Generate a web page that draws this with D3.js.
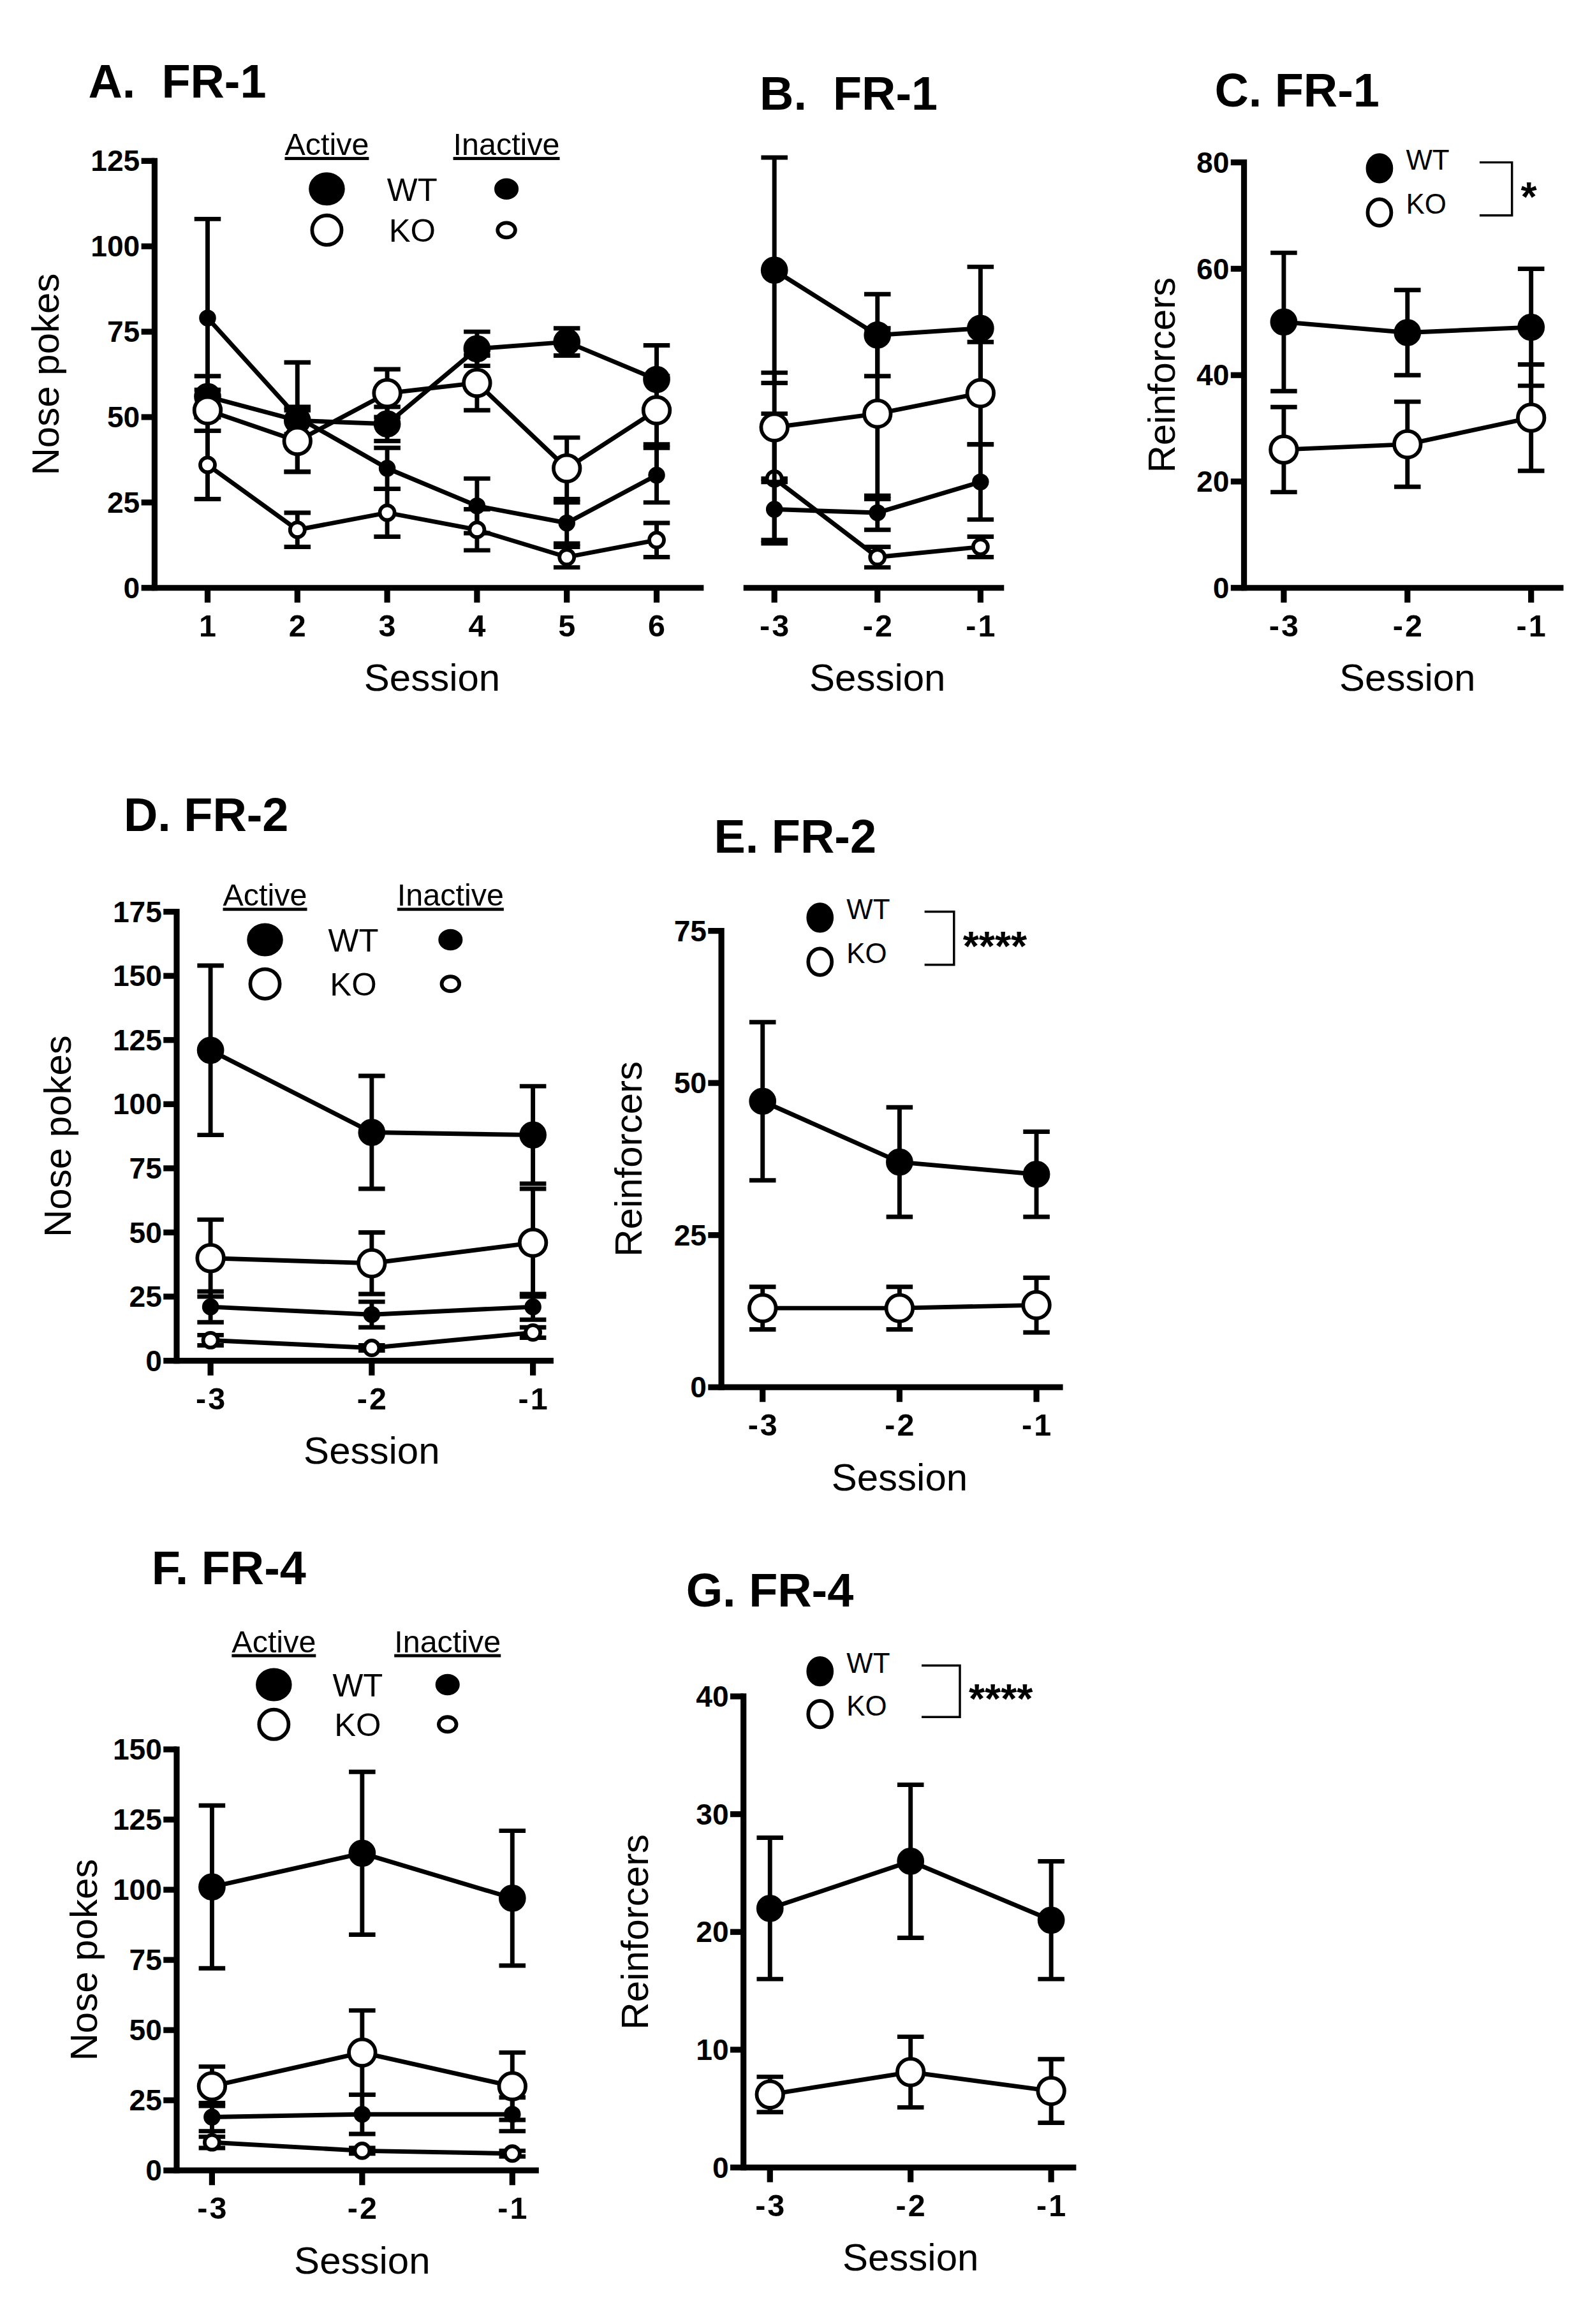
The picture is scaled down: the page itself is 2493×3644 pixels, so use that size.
<!DOCTYPE html>
<html><head><meta charset="utf-8">
<script src="https://cdn.jsdelivr.net/npm/d3@7"></script>
<style>body{margin:0;background:#fff}text{font-family:"Liberation Sans",Arial,sans-serif}</style>
</head><body><div id="chart"></div>
<script>
// Sessions
const sessA = [1, 2, 3, 4, 5, 6];
const sessLast = [-3, -2, -1];

// A. FR-1 nose pokes (sessions 1-6)
const aActWT = [56, 49, 48, 70, 72, 61], aActWTe = [6, 4, 5, 5, 4, 10];
const aActKO = [52, 43, 57, 60, 35, 52], aActKOe = [6, 9, 7, 8, 9, 10];
const aInWT = [79, 50, 35, 24, 19, 33], aInWTe = [29, 16, 6, 8, 6, 8];
const aInKO = [36, 17, 22, 17, 9, 14], aInKOe = [10, 5, 7, 6, 3, 5];
// B. FR-1 nose pokes (last 3 sessions)
const bActWT = [93, 74, 76], bActWTe = [33, 12, 18];
const bActKO = [47, 51, 57], bActKOe = [16, 25, 15];
const bInWT = [23, 22, 31], bInWTe = [9, 5, 11];
const bInKO = [32, 9, 12], bInKOe = [19, 3, 3];
// C. FR-1 reinforcers
const cWT = [50, 48, 49], cWTe = [13, 8, 11];
const cKO = [26, 27, 32], cKOe = [8, 8, 10];
// D. FR-2 nose pokes
const dActWT = [121, 89, 88], dActWTe = [33, 22, 19];
const dActKO = [40, 38, 46], dActKOe = [15, 12, 21];
const dInWT = [21, 18, 21], dInWTe = [6, 5, 5];
const dInKO = [8, 5, 11], dInKOe = [2, 1, 2];
// E. FR-2 reinforcers
const eWT = [47, 37, 35], eWTe = [13, 9, 7];
const eKO = [13, 13, 13.5], eKOe = [3.5, 3.5, 4.5];
// F. FR-4 nose pokes
const fActWT = [101, 113, 97], fActWTe = [29, 29, 24];
const fActKO = [30, 42, 30], fActKOe = [7, 15, 12];
const fInWT = [19, 20, 20], fInWTe = [5, 7, 6];
const fInKO = [10, 7, 6], fInKOe = [2, 1, 1];
// G. FR-4 reinforcers
const gWT = [22, 26, 21], gWTe = [6, 6.5, 5];
const gKO = [6.2, 8.1, 6.5], gKOe = [1.5, 3, 2.7];

// Tick values
const ticksA = [0, 25, 50, 75, 100, 125];
const ticksC = [0, 20, 40, 60, 80];
const ticksD = [0, 25, 50, 75, 100, 125, 150, 175];
const ticksE = [0, 25, 50, 75];
const ticksF = [0, 25, 50, 75, 100, 125, 150];
const ticksG = [0, 10, 20, 30, 40];

const W = 1080, H = 1578;
const svg = d3.select("#chart").append("svg")
    .attr("width", 2493).attr("height", 3644)
    .attr("viewBox", `0 0 ${W} ${H}`);

// Draw one panel; p holds geometry, series holds the lines.
function panel(p, series) {
    const g = svg.append("g");
    const x = d3.scalePoint().domain(p.cats).range([p.x0, p.x1]);
    const y = d3.scaleLinear().domain([0, p.ymax]).range([p.y0, p.yTop]);

    // x axis
    g.append("line").attr("x1", p.axL).attr("x2", p.axR)
        .attr("y1", p.y0).attr("y2", p.y0).attr("stroke", "#000").attr("stroke-width", 4);
    p.cats.forEach(c => {
        g.append("line").attr("x1", x(c)).attr("x2", x(c))
            .attr("y1", p.y0).attr("y2", p.y0 + 10).attr("stroke", "#000").attr("stroke-width", 4);
        g.append("text").attr("x", x(c)).attr("y", p.y0 + 33).attr("text-anchor", "middle")
            .attr("font-size", 21).attr("font-weight", "bold").attr("textLength", String(c).length * 10)
            .text(c);
    });
    g.append("text").attr("x", (p.x0 + p.x1) / 2).attr("y", p.y0 + 70).attr("text-anchor", "middle")
        .attr("font-size", 26).text("Session");

    // y axis
    if (p.ticks) {
        g.append("line").attr("x1", p.axL).attr("x2", p.axL)
            .attr("y1", p.y0 + 2).attr("y2", y(p.ymax) - 2).attr("stroke", "#000").attr("stroke-width", 4);
        p.ticks.forEach(t => {
            g.append("line").attr("x1", p.axL - 9).attr("x2", p.axL)
                .attr("y1", y(t)).attr("y2", y(t)).attr("stroke", "#000").attr("stroke-width", 4);
            g.append("text").attr("x", p.axL - 10).attr("y", y(t) + 7).attr("text-anchor", "end")
                .attr("font-size", 20).attr("font-weight", "bold").text(t);
        });
        g.append("text").attr("transform", `translate(${p.ylabX},${(p.y0 + y(p.ymax)) / 2}) rotate(-90)`)
            .attr("text-anchor", "middle").attr("font-size", 26).text(p.ylab);
    }

    // title
    g.append("text").attr("x", p.tx).attr("y", p.ty).attr("font-size", 32)
        .attr("font-weight", "bold").attr("xml:space", "preserve").text(p.title);

    series.forEach(s => {
        const pts = p.cats.map((c, i) => ({ c, v: s.v[i], e: s.e[i] }));
        pts.forEach(d => {
            g.append("line").attr("x1", x(d.c)).attr("x2", x(d.c))
                .attr("y1", y(d.v + d.e)).attr("y2", y(Math.max(0, d.v - d.e)))
                .attr("stroke", "#000").attr("stroke-width", 3);
            [d.v + d.e, d.v - d.e].forEach(v => g.append("line")
                .attr("x1", x(d.c) - 9).attr("x2", x(d.c) + 9).attr("y1", y(v)).attr("y2", y(v))
                .attr("stroke", "#000").attr("stroke-width", 3));
        });
        g.append("path").datum(pts)
            .attr("d", d3.line().x(d => x(d.c)).y(d => y(d.v)))
            .attr("fill", "none").attr("stroke", "#000").attr("stroke-width", 3);
        g.selectAll(null).data(pts).enter().append("ellipse")
            .attr("cx", d => x(d.c)).attr("cy", d => y(d.v))
            .attr("rx", s.r).attr("ry", s.r)
            .attr("fill", s.fill).attr("stroke", "#000").attr("stroke-width", 2.5);
    });
}

function mark(x, y, rx, ry, fill) {
    svg.append("ellipse").attr("cx", x).attr("cy", y).attr("rx", rx).attr("ry", ry)
        .attr("fill", fill).attr("stroke", "#000").attr("stroke-width", 2.5);
}
function label(x, y, s, t, extra) {
    const el = svg.append("text").attr("x", x).attr("y", y).attr("font-size", s).text(t);
    if (extra) extra(el);
    return el;
}

// Legend with Active/Inactive columns
function pokeLegend(xA, xT, xI, yH, yW, yK) {
    label(xA, yH, 21, "Active", e => e.attr("text-anchor", "middle").attr("text-decoration", "underline"));
    label(xI, yH, 21, "Inactive", e => e.attr("text-anchor", "middle").attr("text-decoration", "underline"));
    mark(xA, yW, 11, 10, "#000");
    mark(xA, yK, 10, 10, "#fff");
    mark(xI, yW, 7, 6, "#000");
    mark(xI, yK, 6, 5, "#fff");
    label(xT, yW + 8, 22, "WT", e => e.attr("text-anchor", "middle"));
    label(xT, yK + 8, 22, "KO", e => e.attr("text-anchor", "middle"));
}
// WT/KO legend with significance bracket
function reinfLegend(x, yW, yK, bx0, bx1, star) {
    mark(x, yW, 8, 9, "#000");
    mark(x, yK, 8, 9, "#fff");
    label(x + 18, yW + 1, 19, "WT");
    label(x + 18, yK + 1, 19, "KO");
    svg.append("path").attr("d", `M${bx0},${yW - 4}H${bx1}V${yK + 2}H${bx0}`)
        .attr("fill", "none").attr("stroke", "#000").attr("stroke-width", 1.5);
    label(bx1 + 6, (yW + yK) / 2 + 14, 28, star, e => e.attr("font-weight", "bold"));
}

const act = (v, e) => ({ v, e, r: 9, fill: "#fff" });

// A
panel({ cats: sessA, x0: 141, x1: 446, axL: 105, axR: 478, y0: 399, yTop: 109, ymax: 125,
    ticks: ticksA, ylab: "Nose pokes", ylabX: 40, title: "A.  FR-1", tx: 60, ty: 66 }, [
    { v: aInWT, e: aInWTe, r: 4.5, fill: "#000" },
    { v: aInKO, e: aInKOe, r: 5, fill: "#fff" },
    { v: aActWT, e: aActWTe, r: 8, fill: "#000" },
    act(aActKO, aActKOe)]);
pokeLegend(222, 280, 344, 105, 128, 156);

// B (no y axis, same scale as A)
panel({ cats: sessLast, x0: 526, x1: 666, axL: 505, axR: 682, y0: 399, yTop: 109, ymax: 125,
    title: "B.  FR-1", tx: 516, ty: 74 }, [
    { v: bInWT, e: bInWTe, r: 4.5, fill: "#000" },
    { v: bInKO, e: bInKOe, r: 5, fill: "#fff" },
    { v: bActWT, e: bActWTe, r: 8, fill: "#000" },
    act(bActKO, bActKOe)]);

// C
panel({ cats: sessLast, x0: 872, x1: 1040, axL: 845, axR: 1062, y0: 399, yTop: 110, ymax: 80,
    ticks: ticksC, ylab: "Reinforcers", ylabX: 798, title: "C. FR-1", tx: 825, ty: 72 }, [
    { v: cWT, e: cWTe, r: 8, fill: "#000" }, act(cKO, cKOe)]);
reinfLegend(937, 114, 144, 1005, 1027, "*");

// D
panel({ cats: sessLast, x0: 143, x1: 362, axL: 120, axR: 376, y0: 924, yTop: 619, ymax: 175,
    ticks: ticksD, ylab: "Nose pokes", ylabX: 48, title: "D. FR-2", tx: 84, ty: 564 }, [
    { v: dInWT, e: dInWTe, r: 4.5, fill: "#000" },
    { v: dInKO, e: dInKOe, r: 5, fill: "#fff" },
    { v: dActWT, e: dActWTe, r: 8, fill: "#000" },
    act(dActKO, dActKOe)]);
pokeLegend(180, 240, 306, 615, 638, 668);

// E
panel({ cats: sessLast, x0: 518, x1: 704, axL: 490, axR: 722, y0: 942, yTop: 632, ymax: 75,
    ticks: ticksE, ylab: "Reinforcers", ylabX: 436, title: "E. FR-2", tx: 485, ty: 579 }, [
    { v: eWT, e: eWTe, r: 8, fill: "#000" }, act(eKO, eKOe)]);
reinfLegend(557, 623, 653, 628, 648, "****");

// F
panel({ cats: sessLast, x0: 144, x1: 348, axL: 120, axR: 366, y0: 1474, yTop: 1188, ymax: 150,
    ticks: ticksF, ylab: "Nose pokes", ylabX: 66, title: "F. FR-4", tx: 103, ty: 1076 }, [
    { v: fInWT, e: fInWTe, r: 4.5, fill: "#000" },
    { v: fInKO, e: fInKOe, r: 5, fill: "#fff" },
    { v: fActWT, e: fActWTe, r: 8, fill: "#000" },
    act(fActKO, fActKOe)]);
pokeLegend(186, 243, 304, 1122, 1144, 1171);

// G
panel({ cats: sessLast, x0: 523, x1: 714, axL: 505, axR: 731, y0: 1472, yTop: 1152, ymax: 40,
    ticks: ticksG, ylab: "Reinforcers", ylabX: 440, title: "G. FR-4", tx: 466, ty: 1091 }, [
    { v: gWT, e: gWTe, r: 8, fill: "#000" }, act(gKO, gKOe)]);
reinfLegend(557, 1135, 1164, 626, 652, "****");
</script></body></html>
